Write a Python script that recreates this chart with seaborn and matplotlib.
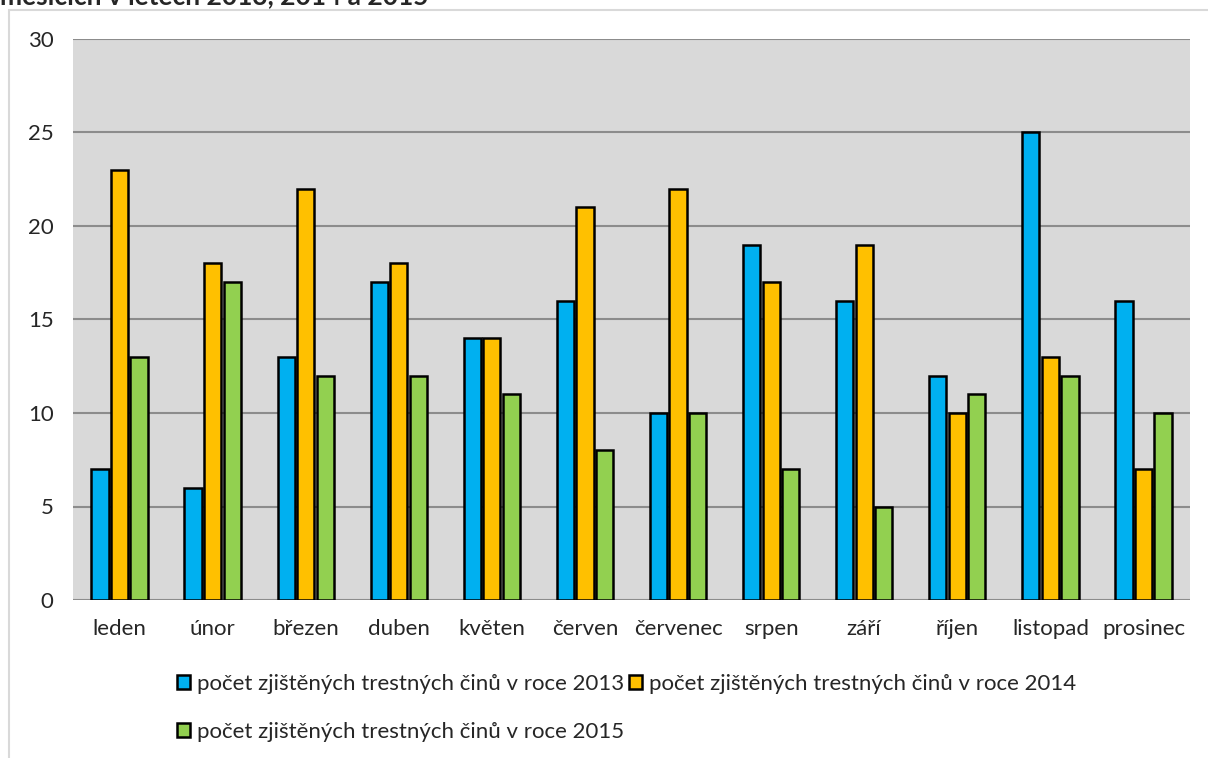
import pandas as pd
import matplotlib.pyplot as plt
import seaborn as sns
from matplotlib.patches import Patch, Rectangle

"""
Data
"""
months = ["leden", "únor", "březen", "duben", "květen", "červen",
          "červenec", "srpen", "září", "říjen", "listopad", "prosinec"]
crimes_2013 = [7, 6, 13, 17, 14, 16, 10, 19, 16, 12, 25, 16]
crimes_2014 = [23, 18, 22, 18, 14, 21, 22, 17, 19, 10, 13, 7]
crimes_2015 = [13, 17, 12, 12, 11, 8, 10, 7, 5, 11, 12, 10]
series_names = ["počet zjištěných trestných činů v roce 2013",
                "počet zjištěných trestných činů v roce 2014",
                "počet zjištěných trestných činů v roce 2015"]
colors = ["#00B0F0", "#FFC000", "#92D050"]

df = pd.DataFrame({
    "mesic": months * 3,
    "pocet": crimes_2013 + crimes_2014 + crimes_2015,
    "rada": [series_names[0]] * 12 + [series_names[1]] * 12 + [series_names[2]] * 12,
})

"""
Plot
"""
sns.set_theme(style="white")
plt.rcParams["font.family"] = ["Lato", "DejaVu Sans"]

fig = plt.figure(figsize=(12.08, 7.58), dpi=100)
ax = fig.add_axes([73 / 1208, 1 - 600 / 758, (1190 - 73) / 1208, (600 - 39) / 758])
ax.set_facecolor("#D9D9D9")

sns.barplot(data=df, x="mesic", y="pocet", hue="rada", order=months,
            hue_order=series_names, palette=colors, width=0.63, gap=0.12,
            edgecolor="black", linewidth=1.8, saturation=1, legend=False, ax=ax)

ax.set_ylim(0, 30)
ax.set_xlim(-0.5, 11.5)
ax.set_yticks(range(0, 31, 5))
ax.yaxis.grid(True, color="#8C8C8C", linewidth=1.5)
ax.set_axisbelow(True)
for s in ax.spines.values():
    s.set_visible(False)
ax.set_xlabel("")
ax.set_ylabel("")
ax.tick_params(axis="y", length=0, pad=14, labelsize=16)
ax.tick_params(axis="x", length=0, pad=14, labelsize=16)

# legend in two rows
handles = [Patch(facecolor=c, edgecolor="black", linewidth=1.8) for c in colors]
order = [0, 2, 1]
fig.legend([handles[i] for i in order], [series_names[i] for i in order],
           ncol=2, loc="upper left", bbox_to_anchor=(177 / 1208, 1 - 674 / 758),
           frameon=False, fontsize=16, borderpad=0, borderaxespad=0,
           handlelength=0.6, handleheight=0.6, handletextpad=0.3,
           columnspacing=0.2, labelspacing=1.25)

# outer chart frame and cut-off title
fig.patches.append(Rectangle((9 / 1208, -0.1), 1.2, 1 - 10 / 758 + 0.1,
                             transform=fig.transFigure, fill=False,
                             edgecolor="#D9D9D9", linewidth=1.5))
fig.text(0, 1 - 4 / 758, "měsících v letech 2013, 2014 a 2015", fontsize=19,
         fontweight="bold", ha="left", va="baseline")

plt.savefig("out.png", dpi=100)
